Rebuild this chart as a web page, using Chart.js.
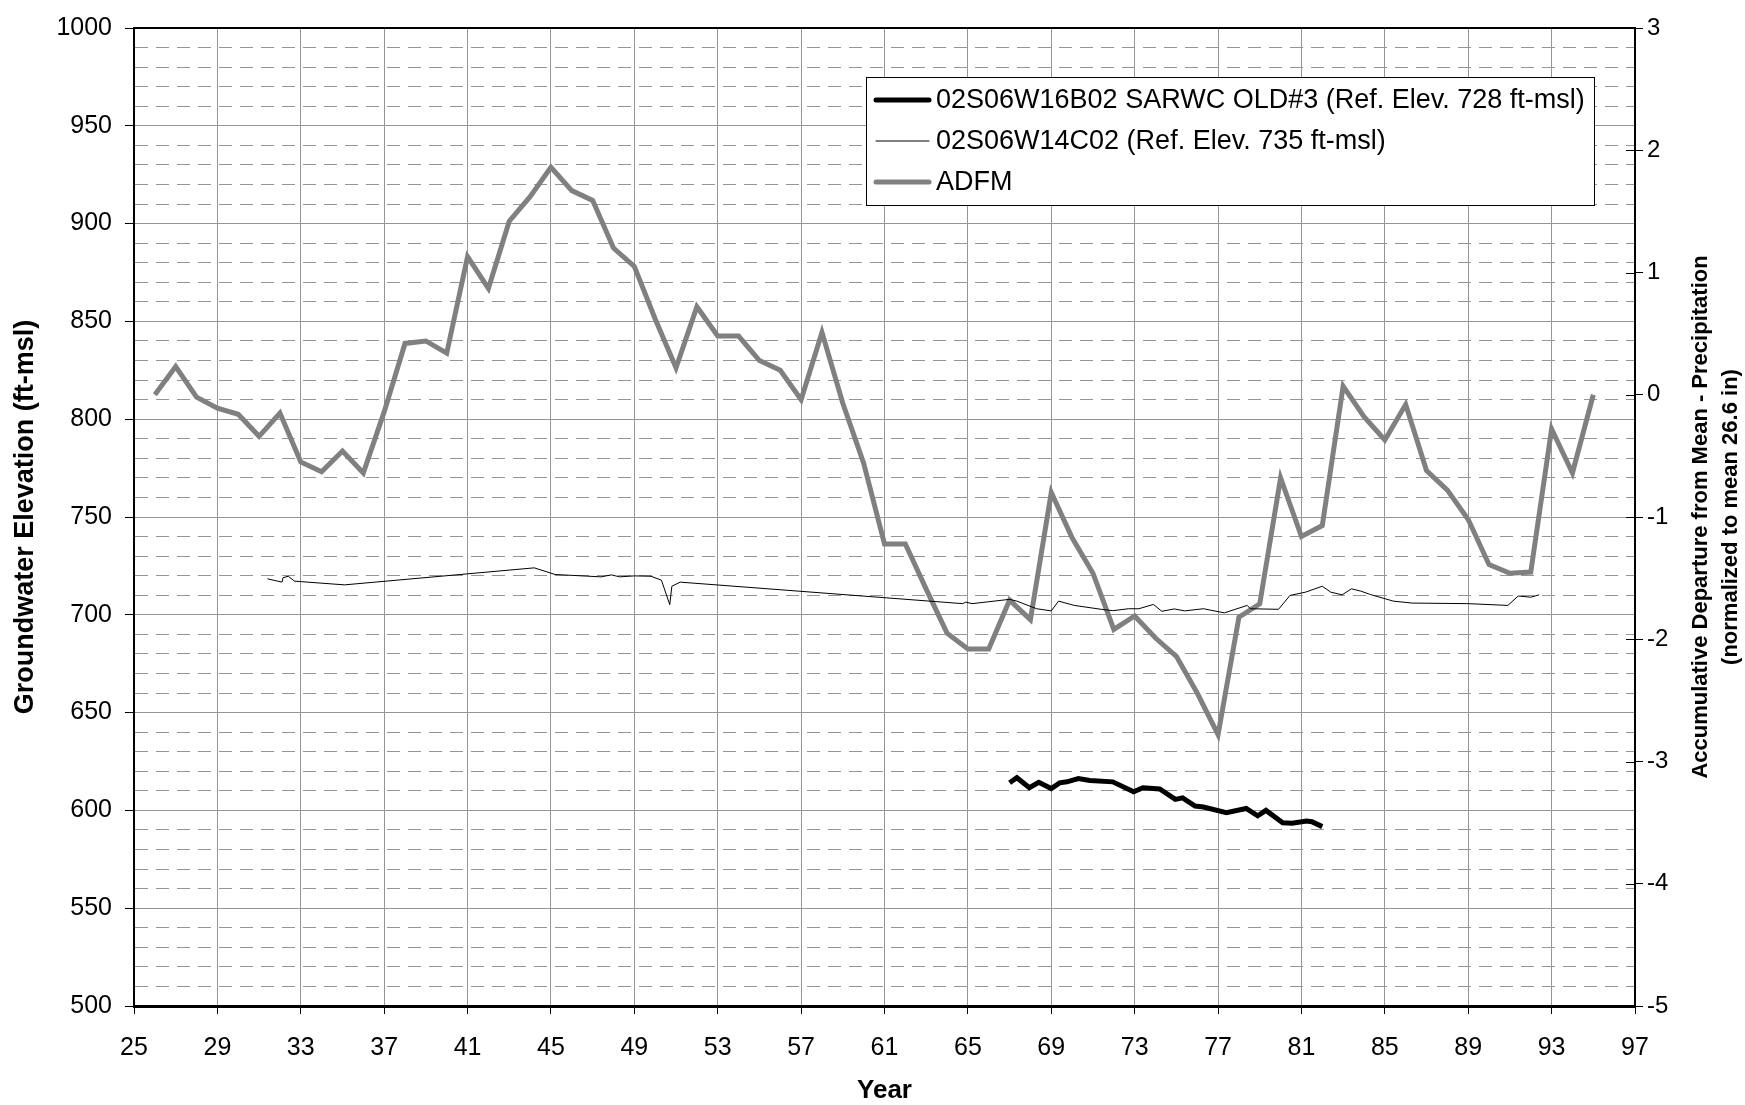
<!DOCTYPE html>
<html>
<head>
<meta charset="utf-8">
<script src="https://cdn.jsdelivr.net/npm/chart.js@4.4.1/dist/chart.umd.min.js"></script>
<style>
  html, body { margin: 0; padding: 0; background: #fff; }
  #wrap { width: 1745px; height: 1105px; }
</style>
</head>
<body>
<div id="wrap"><canvas id="hydroChart" width="1745" height="1105"></canvas></div>
<script>
// 02S06W16B02 SARWC OLD#3, groundwater elevation (ft-msl)
var wellBYears = [67.0, 67.35, 67.95, 68.4, 69.0, 69.4, 69.75, 70.3, 70.85, 71.95, 72.95, 73.4, 74.2,
                  74.95, 75.3, 75.9, 76.3, 77.4, 78.35, 78.9, 79.3, 80.1, 80.55, 81.25, 81.5, 82.0];
var wellBElev  = [614.1, 616.7, 611.6, 614.4, 611.2, 614.1, 614.6, 616.3, 615.3, 614.6, 609.5, 611.6, 611.0,
                  605.6, 606.4, 602.2, 601.7, 598.8, 601.0, 597.2, 600.0, 593.7, 593.4, 594.6, 594.2, 591.7];

// 02S06W14C02, groundwater elevation (ft-msl)
var wellCYears = [31.4, 32.1, 32.15, 32.4, 32.7, 35.1, 44.2, 45.2, 47.4, 47.9, 48.3, 49.0, 49.8, 50.3,
                  50.7, 50.8, 51.2, 64.75, 64.9, 65.2, 67.0, 67.35, 68.3, 69.0, 69.35, 70.1, 71.4, 71.95,
                  72.7, 73.2, 73.9, 74.3, 74.9, 75.4, 76.3, 77.3, 78.4, 78.55, 79.9, 80.45, 81.2, 82.0,
                  82.4, 82.95, 83.4, 83.85, 84.3, 85.4, 86.3, 89.0, 90.9, 91.4, 92.0, 92.4];
var wellCElev  = [718.4, 716.7, 719.0, 719.7, 717.2, 715.3, 724.0, 720.6, 719.4, 720.4, 719.4, 719.9, 719.7, 717.7,
                  705.2, 714.6, 716.7, 705.7, 706.5, 705.7, 707.9, 707.0, 703.1, 702.0, 707.0, 704.8, 702.8, 702.1,
                  703.1, 703.1, 705.3, 701.8, 703.0, 702.0, 703.1, 701.0, 704.8, 703.1, 702.8, 709.9, 711.6, 714.6,
                  711.6, 710.2, 713.3, 712.1, 710.4, 707.0, 706.0, 705.7, 704.8, 709.6, 709.0, 710.2];

// accumulative departure from mean precipitation (right axis)
var adfmYears  = [26, 27, 28, 29, 30, 31, 32, 33, 34, 35, 36, 37, 38, 39, 40, 41, 42, 43, 44, 45,
                  46, 47, 48, 49, 50, 51, 52, 53, 54, 55, 56, 57, 58, 59, 60, 61, 62, 63, 64, 65,
                  66, 67, 68, 69, 70, 71, 72, 73, 74, 75, 76, 77, 78, 79, 80, 81, 82, 83, 84, 85,
                  86, 87, 88, 89, 90, 91, 92, 93, 94, 95];
var adfmValues = [0.00, 0.23, -0.02, -0.11, -0.16, -0.34, -0.15, -0.55, -0.63, -0.46, -0.64, -0.14, 0.42, 0.44, 0.34, 1.13, 0.87, 1.42, 1.62, 1.86,
                  1.67, 1.59, 1.20, 1.05, 0.62, 0.22, 0.72, 0.48, 0.48, 0.28, 0.20, -0.04, 0.51, -0.07, -0.56, -1.22, -1.22, -1.59, -1.95, -2.08,
                  -2.08, -1.68, -1.84, -0.80, -1.17, -1.46, -1.92, -1.81, -1.99, -2.14, -2.44, -2.78, -1.82, -1.71, -0.68, -1.16, -1.07, 0.07, -0.18, -0.37,
                  -0.08, -0.62, -0.78, -1.02, -1.39, -1.46, -1.45, -0.28, -0.64, 0.00];

var labels = ['02S06W16B02 SARWC OLD#3 (Ref. Elev. 728 ft-msl)', '02S06W14C02 (Ref. Elev. 735 ft-msl)', 'ADFM'];
var xTitle = 'Year';
var yTitle = 'Groundwater Elevation (ft-msl)';
var y2Title = ['Accumulative Departure from Mean - Precipitation', '(normalized to mean 26.6 in)'];

var FONT = '"Liberation Sans", Arial, sans-serif';
var GRID = '#959595';

function toPoints(xs, ys) {
    var pts = [];
    for (var i = 0; i < xs.length; i++) {
        pts.push({x: xs[i], y: ys[i]});
    }
    return pts;
}

// titles, top frame line, inner right ticks and the boxed legend
var chartDecor = {
    id: 'chartDecor',
    afterDraw: function(chart) {
        var ctx = chart.ctx;
        var a = chart.chartArea;
        var midY = (a.top + a.bottom) / 2;
        ctx.save();

        ctx.strokeStyle = '#000';
        ctx.lineWidth = 2;
        ctx.beginPath();
        ctx.moveTo(a.left - 1, a.top);
        ctx.lineTo(a.right + 1, a.top);
        ctx.stroke();

        var r = chart.scales.y2;
        ctx.lineWidth = 1;
        r.ticks.forEach(function(t) {
            var py = Math.round(r.getPixelForValue(t.value)) + 0.5;
            ctx.beginPath();
            ctx.moveTo(a.right - 9, py);
            ctx.lineTo(a.right, py);
            ctx.stroke();
        });

        ctx.fillStyle = '#000';
        ctx.textAlign = 'center';
        ctx.textBaseline = 'middle';

        ctx.font = 'bold 27px ' + FONT;
        ctx.save();
        ctx.translate(26, midY);
        ctx.rotate(-Math.PI / 2);
        ctx.fillText(yTitle, 0, 0);
        ctx.restore();

        ctx.font = 'bold 22px ' + FONT;
        [1701, 1731].forEach(function(cx, i) {
            ctx.save();
            ctx.translate(cx, midY);
            ctx.rotate(-Math.PI / 2);
            ctx.fillText(y2Title[i], 0, 0);
            ctx.restore();
        });

        ctx.font = 'bold 26px ' + FONT;
        ctx.fillText(xTitle, (a.left + a.right) / 2, 1091);

        // legend box
        var bx = 866, by = 77, bw = 728, bh = 128;
        ctx.fillStyle = '#fff';
        ctx.fillRect(bx, by, bw, bh);
        ctx.strokeStyle = '#000';
        ctx.lineWidth = 1;
        ctx.strokeRect(bx + 0.5, by + 0.5, bw, bh);

        ctx.textAlign = 'left';
        ctx.font = '27px ' + FONT;
        chart.data.datasets.forEach(function(ds, i) {
            var ry = 100 + i * 41;
            ctx.strokeStyle = ds.borderColor;
            ctx.lineWidth = ds.borderWidth;
            ctx.lineCap = 'round';
            ctx.beginPath();
            ctx.moveTo(876, ry);
            ctx.lineTo(929, ry);
            ctx.stroke();
            ctx.fillStyle = '#000';
            ctx.fillText(ds.label, 936, ry + 1);
        });

        ctx.restore();
    }
};

var ctx = document.getElementById('hydroChart').getContext('2d');
var hydroChart = new Chart(ctx, {
    type: 'line',
    data: {
        datasets: [
            {
                label: labels[0],
                data: toPoints(wellBYears, wellBElev),
                borderColor: '#000000',
                borderWidth: 5,
                yAxisID: 'y'
            },
            {
                label: labels[1],
                data: toPoints(wellCYears, wellCElev),
                borderColor: '#000000',
                borderWidth: 1,
                yAxisID: 'y'
            },
            {
                label: labels[2],
                data: toPoints(adfmYears, adfmValues),
                borderColor: '#808080',
                borderWidth: 5,
                yAxisID: 'y2'
            }
        ]
    },
    options: {
        responsive: false,
        animation: false,
        devicePixelRatio: 1,
        layout: { padding: { top: 23, left: 0, right: 0, bottom: 0 } },
        elements: {
            point: { radius: 0, hoverRadius: 0 },
            line: { tension: 0, fill: false }
        },
        plugins: {
            legend: { display: false },
            tooltip: { enabled: false }
        },
        scales: {
            x: {
                type: 'linear',
                min: 25,
                max: 97,
                afterFit: function(s) { s.height = 99; },
                ticks: {
                    stepSize: 4,
                    color: '#000',
                    padding: 19,
                    maxRotation: 0,
                    font: { family: FONT, size: 25 }
                },
                grid: {
                    color: GRID,
                    lineWidth: 1,
                    tickColor: '#000',
                    tickLength: 8
                },
                border: { color: '#000', width: 3 }
            },
            y: {
                type: 'linear',
                position: 'left',
                min: 500,
                max: 1000,
                afterFit: function(s) { s.width = 134; },
                ticks: {
                    stepSize: 10,
                    autoSkip: false,
                    color: '#000',
                    padding: 13,
                    font: { family: FONT, size: 25 },
                    callback: function(v) { return v % 50 === 0 ? v : ''; }
                },
                grid: {
                    color: GRID,
                    lineWidth: 1,
                    tickLength: 9,
                    tickColor: function(c) {
                        return (c.tick && c.tick.value % 50 === 0) ? '#000' : 'rgba(0,0,0,0)';
                    }
                },
                border: {
                    color: '#000',
                    width: 2,
                    dash: function(c) {
                        return (c.tick && c.tick.value % 50 !== 0) ? [13, 8] : [];
                    }
                }
            },
            y2: {
                type: 'linear',
                position: 'right',
                min: -5,
                max: 3,
                afterFit: function(s) { s.width = 110; },
                ticks: {
                    stepSize: 1,
                    color: '#000',
                    padding: 4,
                    font: { family: FONT, size: 24 }
                },
                grid: {
                    drawOnChartArea: false,
                    tickColor: '#000',
                    tickLength: 8
                },
                border: { color: '#000', width: 2 }
            }
        }
    },
    plugins: [chartDecor]
});
</script>
</body>
</html>
